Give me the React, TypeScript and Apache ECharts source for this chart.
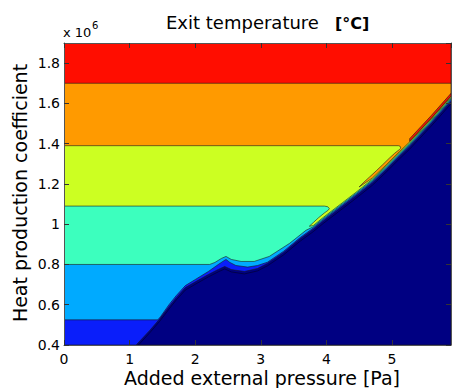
import React, { useEffect, useRef } from "react";
import * as echarts from "echarts";

type Pt = [number, number];

const X_MAX = 5.9;
const Y_MIN = 0.4;
const Y_MAX = 1.9;

const titleText = "Exit temperature";
const unitText = "[°C]";
const xName = "Added external pressure [Pa]";
const yName = "Heat production coefficient";

// jet-like band colours, lowest to highest
const bandColors = ["#000082", "#0A1EFA", "#00AAFF", "#3CFFBE", "#CCFF22", "#FF9A00", "#FF0D00"];

// contour levels (horizontal band boundaries), x 10^6
const levels = [0.525, 0.8, 1.09, 1.39, 1.7];

// edge of the dark (lowest) region
const navyEdge: Pt[] = [
  [1.1, 0.4], [1.3, 0.47], [1.46, 0.53], [1.6, 0.59], [1.71, 0.635], [1.85, 0.685],
  [2.01, 0.715], [2.2, 0.75], [2.35, 0.775], [2.45, 0.79], [2.55, 0.775], [2.75, 0.765],
  [2.95, 0.78], [3.1, 0.805], [3.35, 0.86], [3.59, 0.925], [3.8, 0.975], [3.95, 1.015],
  [4.25, 1.09], [4.45, 1.14], [4.7, 1.205], [4.91, 1.27], [5.11, 1.335], [5.27, 1.385],
  [5.6, 1.5], [5.9, 1.61],
];

const lightBlueHead: Pt[] = [
  [0, levels[0]], [1.43, levels[0]], [1.47, 0.54], [1.6, 0.6], [1.71, 0.645], [1.85, 0.695],
  [2.01, 0.727], [2.2, 0.765], [2.33, 0.795], [2.42, 0.815], [2.47, 0.825], [2.53, 0.81],
  [2.62, 0.795], [2.8, 0.787], [2.95, 0.795],
];

const cyanHead: Pt[] = [
  [0, levels[1]], [2.22, levels[1]], [2.3, 0.81], [2.4, 0.83], [2.47, 0.84], [2.55, 0.825],
  [2.7, 0.815], [2.9, 0.815], [3.13, 0.84], [3.44, 0.905], [3.69, 0.97],
];

const yellowHead: Pt[] = [
  [0, levels[2]], [3.97, levels[2]], [4.02, 1.087], [4.045, 1.078], [4.03, 1.07],
  [3.97, 1.056], [3.88, 1.032], [3.8, 1.008], [3.74, 0.99],
];

const orangeHead: Pt[] = [
  [0, levels[3]], [5.1, levels[3]], [5.125, 1.387], [5.135, 1.378], [5.11, 1.37],
  [5.04, 1.352], [4.96, 1.328], [4.86, 1.296], [4.76, 1.265], [4.66, 1.235],
  [4.56, 1.205], [4.5, 1.185],
];

// small offsets of the thin bands hugging the dark edge
const edgeOffsets = [0, 0.006, 0.012, 0.018, 0.024];
const redStripOffsets = [0.027, 0.04];
const redStripFrom = 5.27;
const innerLineOffset = -0.012;

function layer(head: Pt[], offset: number): Pt[] {
  const fromX = head.length > 1 ? head[head.length - 1][0] : -1;
  const tail = navyEdge.filter((p) => p[0] > fromX).map((p) => [p[0], p[1] + offset] as Pt);
  return [...head, ...tail, [X_MAX, Y_MAX], [0, Y_MAX]];
}

interface Poly { pts: Pt[]; fill: string | null; closed: boolean; }

function buildPolys(): Poly[] {
  const polys: Poly[] = [];
  polys.push({ pts: [[0, Y_MIN], [X_MAX, Y_MIN], [X_MAX, Y_MAX], [0, Y_MAX]], fill: bandColors[0], closed: true });
  polys.push({ pts: layer([[0, Y_MIN]], edgeOffsets[0]), fill: bandColors[1], closed: true });
  polys.push({ pts: layer(lightBlueHead, edgeOffsets[1]), fill: bandColors[2], closed: true });
  polys.push({ pts: layer(cyanHead, edgeOffsets[2]), fill: bandColors[3], closed: true });
  polys.push({ pts: layer(yellowHead, edgeOffsets[3]), fill: bandColors[4], closed: true });
  polys.push({ pts: layer(orangeHead, edgeOffsets[4]), fill: bandColors[5], closed: true });
  polys.push({ pts: [[0, levels[4]], [X_MAX, levels[4]], [X_MAX, Y_MAX], [0, Y_MAX]], fill: bandColors[6], closed: true });
  const strip = navyEdge.filter((p) => p[0] >= redStripFrom);
  polys.push({
    pts: [
      ...strip.map((p) => [p[0], p[1] + redStripOffsets[0]] as Pt),
      ...strip.slice().reverse().map((p) => [p[0], p[1] + redStripOffsets[1]] as Pt),
    ],
    fill: bandColors[6],
    closed: true,
  });
  polys.push({ pts: navyEdge.map((p) => [p[0], p[1] + innerLineOffset] as Pt), fill: null, closed: false });
  return polys;
}

const FONT = "DejaVu Sans";

export default function App() {
  const ref = useRef<HTMLDivElement>(null);
  useEffect(() => {
    if (!ref.current) return;
    const chart = echarts.init(ref.current, undefined, { renderer: "svg" });
    const polys = buildPolys();
    const axisLine = { show: true, onZero: false, lineStyle: { color: "#555", width: 1 } };
    const axisTick = { show: true, inside: true, length: 5, lineStyle: { color: "#333", width: 1 } };
    const label = { color: "#000", fontSize: 14, fontFamily: FONT, showMaxLabel: false };
    chart.setOption({
      animation: false,
      backgroundColor: "#fff",
      grid: { left: 64, top: 43, width: 387, height: 302 },
      xAxis: [
        { type: "value", min: 0, max: X_MAX, interval: 1, position: "bottom", z: 10,
          axisLine, axisTick, axisLabel: { ...label, margin: 7 }, splitLine: { show: false } },
        { type: "value", min: 0, max: X_MAX, interval: 1, position: "top", z: 10,
          axisLine, axisTick, axisLabel: { show: false }, splitLine: { show: false } },
      ],
      yAxis: [
        { type: "value", min: Y_MIN, max: Y_MAX, interval: 0.2, position: "left", z: 10,
          axisLine, axisTick, axisLabel: { ...label, margin: 4 }, splitLine: { show: false } },
        { type: "value", min: Y_MIN, max: Y_MAX, interval: 0.2, position: "right", z: 10,
          axisLine, axisTick, axisLabel: { show: false }, splitLine: { show: false } },
      ],
      series: [
        {
          type: "custom",
          xAxisIndex: 0,
          yAxisIndex: 0,
          clip: true,
          data: polys.map(() => [0, Y_MIN]),
          renderItem: (params: any, api: any) => {
            const poly = polys[params.dataIndex];
            const points = poly.pts.map((p) => api.coord(p));
            if (!poly.closed) {
              return { type: "polyline", shape: { points }, style: { fill: null, stroke: "#000033", lineWidth: 0.7 } };
            }
            return {
              type: "polygon",
              shape: { points },
              style: { fill: poly.fill, stroke: "#1a1a1a", lineWidth: 0.6 },
            };
          },
        },
      ],
      graphic: [
        { type: "text", left: 166, top: 13, style: { text: titleText, font: `18px "${FONT}"`, fill: "#000" } },
        { type: "text", left: 335, top: 15, style: { text: unitText, font: `bold 16px "${FONT}"`, fill: "#000" } },
        { type: "text", left: 63, top: 26, style: { text: "x 10", font: `13px "${FONT}"`, fill: "#000" } },
        { type: "text", left: 92, top: 20, style: { text: "6", font: `10px "${FONT}"`, fill: "#000" } },
        {
          type: "text",
          x: 20,
          y: 193,
          rotation: Math.PI / 2,
          style: { text: yName, font: `19px "${FONT}"`, fill: "#000", align: "center", verticalAlign: "middle" },
        },
        {
          type: "text",
          x: 262,
          y: 378,
          style: { text: xName, font: `19px "${FONT}"`, fill: "#000", align: "center", verticalAlign: "middle" },
        },
      ],
    });
    return () => chart.dispose();
  }, []);
  return (
    <div
      ref={ref}
      style={{ position: "fixed", left: 0, top: 0, width: 452, height: 388, background: "#fff" }}
    />
  );
}
